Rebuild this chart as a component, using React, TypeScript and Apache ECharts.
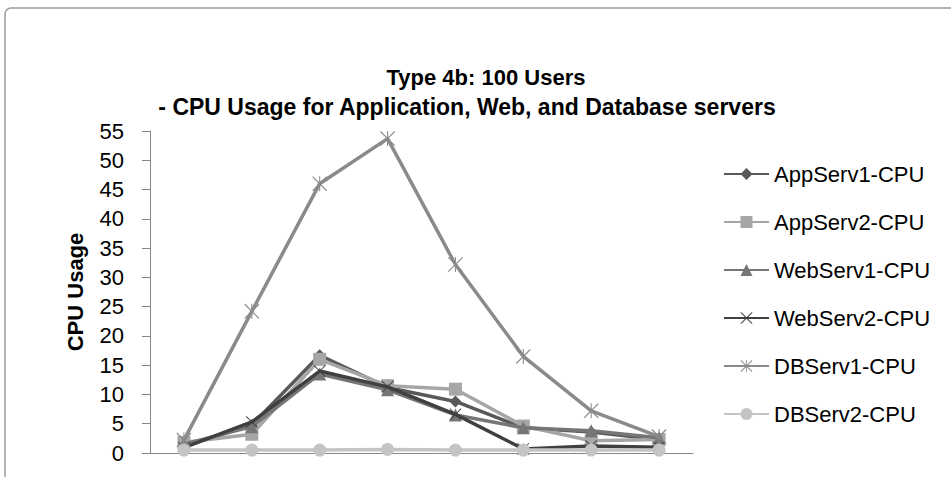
import React, { useEffect, useRef } from "react";
import * as echarts from "echarts";

const categories = ["1", "2", "3", "4", "5", "6", "7", "8"];
const appServ1 = [1.2, 4.8, 16.7, 11.2, 8.8, 4.3, 3.6, 2.3];
const appServ2 = [1.8, 3.2, 16.0, 11.5, 10.9, 4.6, 2.1, 2.3];
const webServ1 = [1.5, 4.5, 13.5, 10.8, 6.5, 4.3, 3.8, 2.6];
const webServ2 = [0.9, 5.3, 14.0, 11.3, 6.6, 0.7, 1.2, 1.0];
const dbServ1 = [2.2, 24.2, 46.0, 53.7, 32.2, 16.5, 7.2, 2.8];
const dbServ2 = [0.5, 0.5, 0.5, 0.6, 0.5, 0.5, 0.5, 0.5];
const seriesNames = [
  "AppServ1-CPU",
  "AppServ2-CPU",
  "WebServ1-CPU",
  "WebServ2-CPU",
  "DBServ1-CPU",
  "DBServ2-CPU",
];
const titleText = "Type 4b: 100 Users";
const subtitleText = "- CPU Usage for Application, Web, and Database servers";
const yAxisName = "CPU Usage";

const X_PATH =
  "path://M0,1.1 L1.1,0 L10,8.9 L18.9,0 L20,1.1 L11.1,10 L20,18.9 L18.9,20 L10,11.1 L1.1,20 L0,18.9 L8.9,10 Z";
const STAR_PATH =
  "path://M0,1.1 L1.1,0 L10,8.9 L18.9,0 L20,1.1 L11.1,10 L20,18.9 L18.9,20 L10,11.1 L1.1,20 L0,18.9 L8.9,10 Z M9.3,0 L10.7,0 L10.7,20 L9.3,20 Z";

const FONT = "'Liberation Sans', Arial, sans-serif";

export default function App() {
  const ref = useRef<HTMLDivElement>(null);

  useEffect(() => {
    if (!ref.current) return;
    const chart = echarts.init(ref.current, null, { renderer: "svg" });

    const styles = [
      { data: appServ1, color: "#595959", symbol: "diamond", size: 12 },
      { data: appServ2, color: "#a6a6a6", symbol: "rect", size: 13 },
      { data: webServ1, color: "#767676", symbol: "triangle", size: 13 },
      { data: webServ2, color: "#404040", symbol: X_PATH, size: 12 },
      { data: dbServ1, color: "#8a8a8a", symbol: STAR_PATH, size: 15 },
      { data: dbServ2, color: "#c4c4c4", symbol: "circle", size: 13 },
    ];

    chart.setOption({
      animation: false,
      backgroundColor: "#ffffff",
      textStyle: { fontFamily: FONT },
      title: [
        {
          text: titleText,
          left: 481,
          top: 61,
          textAlign: "center",
          textStyle: { fontFamily: FONT, fontSize: 22, fontWeight: "bold", color: "#000" },
        },
        {
          text: subtitleText,
          left: 462,
          top: 90,
          textAlign: "center",
          textStyle: { fontFamily: FONT, fontSize: 23, fontWeight: "bold", color: "#000" },
        },
      ],
      graphic: [
        {
          type: "rect",
          shape: { x: 5, y: 8, width: 1000, height: 600, r: 6 },
          style: { fill: "none", stroke: "#9a9a9a", lineWidth: 1.5 },
          silent: true,
        },
      ],
      legend: {
        orient: "vertical",
        left: 718,
        top: 158,
        itemWidth: 45,
        itemHeight: 15,
        itemGap: 26,
        textStyle: { fontFamily: FONT, fontSize: 22, color: "#000" },
        data: seriesNames,
      },
      grid: { left: 150, right: 258, top: 131, bottom: 24, containLabel: false },
      xAxis: {
        type: "category",
        data: categories,
        boundaryGap: true,
        axisLine: { show: true, lineStyle: { color: "#868686", width: 1 } },
        axisTick: { show: false },
        axisLabel: { show: false },
        splitLine: { show: false },
      },
      yAxis: {
        type: "value",
        min: 0,
        max: 55,
        interval: 5,
        name: yAxisName,
        nameLocation: "middle",
        nameGap: 64,
        nameRotate: 90,
        nameTextStyle: { fontFamily: FONT, fontSize: 22, fontWeight: "bold", color: "#000" },
        axisLine: { show: true, lineStyle: { color: "#868686", width: 1 } },
        axisTick: { show: true, length: 8, lineStyle: { color: "#868686" } },
        axisLabel: { margin: 26, fontFamily: FONT, fontSize: 22, color: "#000" },
        splitLine: { show: false },
      },
      series: styles.map((s, i) => ({
        name: seriesNames[i],
        type: "line",
        data: s.data,
        symbol: s.symbol,
        symbolSize: s.size,
        showAllSymbol: true,
        lineStyle: { color: s.color, width: 3.5 },
        itemStyle: { color: s.color },
        z: 2 + i,
      })),
    });

    return () => chart.dispose();
  }, []);

  return (
    <div
      ref={ref}
      style={{ position: "fixed", left: 0, top: 0, width: 951, height: 477 }}
    />
  );
}
